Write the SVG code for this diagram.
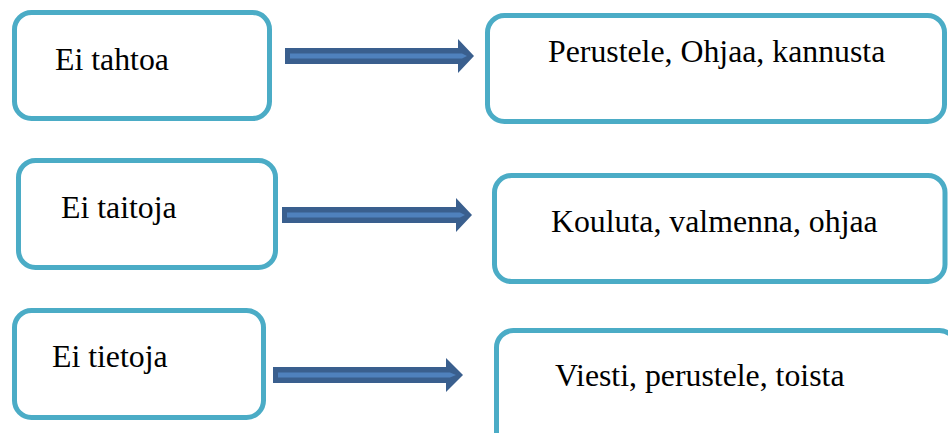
<svg xmlns="http://www.w3.org/2000/svg" width="948" height="433" viewBox="0 0 948 433">
<style>
.box{fill:#fff;stroke:#4BACC6;stroke-width:5}
.lbl{font-family:'Liberation Serif','Times New Roman',Times,'DejaVu Serif',serif;font-size:31.8px;fill:#000}
.ao{fill:#3A5F8E}
.ai{fill:#4F81BD}
</style>
<rect width="948" height="433" fill="#fff"/>
<g id="n1"><rect class="box" x="14.5" y="12.5" width="255" height="106" rx="17"/><text class="lbl" x="55" y="69.5" font-family="Liberation Serif, serif">Ei tahtoa</text></g>
<g id="n2"><rect class="box" x="487.5" y="15.5" width="457" height="106" rx="17"/><text class="lbl" x="548" y="62" font-family="Liberation Serif, serif">Perustele, Ohjaa, kannusta</text></g>
<g id="n3"><rect class="box" x="18.5" y="160.5" width="257" height="107" rx="17"/><text class="lbl" x="61" y="217.5" font-family="Liberation Serif, serif">Ei taitoja</text></g>
<g id="n4"><rect class="box" x="494.5" y="175.5" width="450.5" height="106" rx="17"/><text class="lbl" x="551" y="231.5" font-family="Liberation Serif, serif">Kouluta, valmenna, ohjaa</text></g>
<g id="n5"><rect class="box" x="14.5" y="310.5" width="249" height="107" rx="17"/><text class="lbl" x="52" y="366.5" font-family="Liberation Serif, serif">Ei tietoja</text></g>
<g id="n6"><rect class="box" x="496.5" y="330.5" width="460" height="120" rx="17"/><text class="lbl" x="555" y="386" font-family="Liberation Serif, serif">Viesti, perustele, toista</text></g>
<g id="connectors">
<polygon class="ao" points="285,48 458,48 458,39 474,56 458,73 458,64 285,64"/>
<polygon class="ai" points="290,53.5 462,53.5 467,56 462,58.5 290,58.5"/>
<polygon class="ao" points="282,207 456,207 456,198 472,215 456,232 456,223 282,223"/>
<polygon class="ai" points="287,212.5 460,212.5 465,215 460,217.5 287,217.5"/>
<polygon class="ao" points="273,367 446,367 446,358 463,375 446,392 446,383 273,383"/>
<polygon class="ai" points="278,372.5 450,372.5 456,375 450,377.5 278,377.5"/>
</g>
</svg>
